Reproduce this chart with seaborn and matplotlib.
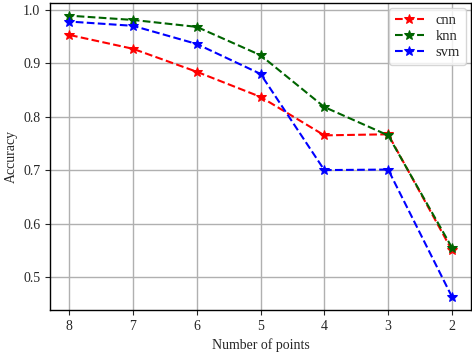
import numpy as np
import pandas as pd
import matplotlib
matplotlib.use("Agg")
import matplotlib.pyplot as plt
import seaborn as sns

# values
points = [8, 7, 6, 5, 4, 3, 2]
cnn = [0.953, 0.927, 0.884, 0.837, 0.765, 0.767, 0.550]
knn = [0.989, 0.981, 0.968, 0.915, 0.818, 0.765, 0.555]
svm = [0.978, 0.970, 0.936, 0.880, 0.700, 0.701, 0.463]

series = {"cnn": cnn, "knn": knn, "svm": svm}
colors = {"cnn": "red", "knn": "darkgreen", "svm": "blue"}

sns.set_style("ticks")
plt.rcParams["font.family"] = ["Liberation Serif", "DejaVu Serif"]

fig = plt.figure(figsize=(4.72, 3.54), dpi=100)
ax = fig.add_axes([0.106, 0.124, 0.892, 0.868])

for name, vals in series.items():
    df = pd.DataFrame({"points": points, "acc": vals})
    sns.lineplot(data=df, x="points", y="acc", ax=ax, color=colors[name],
                 linestyle="--", marker="*", markersize=7.5, markeredgecolor=colors[name],
                 label=name, linewidth=1.5)

ax.set_xlim(8.3, 1.7)
ax.set_ylim(0.438, 1.013)
ax.set_xticks(points)
ax.set_yticks([0.5, 0.6, 0.7, 0.8, 0.9, 1.0])
ax.set_yticklabels(["0.5", "0.6", "0.7", "0.8", "0.9", "1.0"])
ax.grid(True, color="#b0b0b0", linewidth=1)
ax.set_xlabel("Number of points", fontsize=10)
ax.set_ylabel("Accuracy", fontsize=10)
ax.tick_params(labelsize=10, direction="out", length=3.5)
for s in ax.spines.values():
    s.set_color("black")
    s.set_linewidth(1)

ax.legend(loc="upper right", fontsize=10.5, frameon=True, fancybox=True,
          labelspacing=0.2, borderaxespad=0.35, handlelength=2.0)

fig.savefig("out.png", dpi=100)
